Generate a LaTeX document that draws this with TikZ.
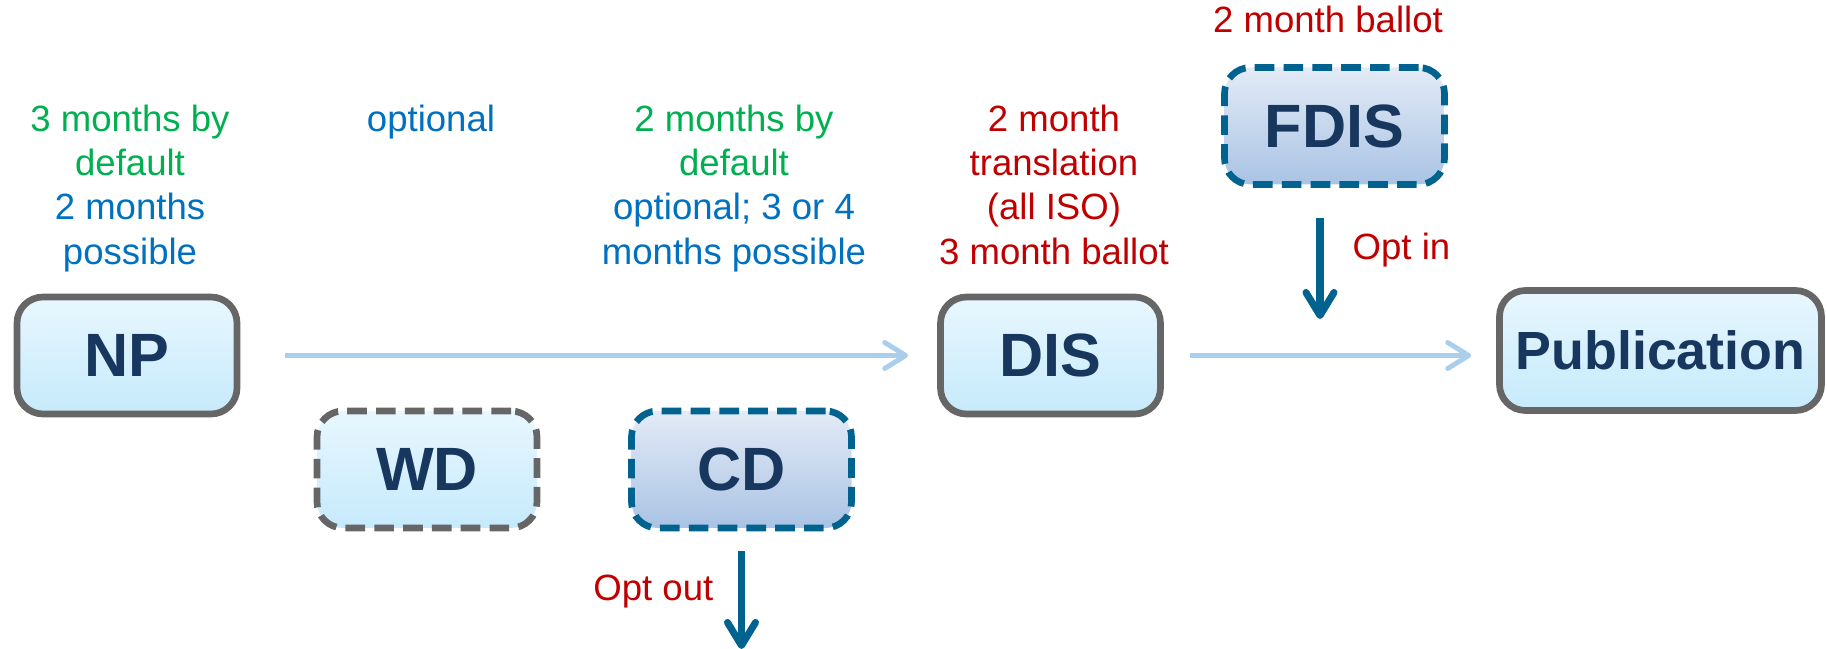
\documentclass[tikz,border=0pt]{standalone}
\usepackage{fontspec}
\setmainfont{Liberation Sans}
\usetikzlibrary{arrows.meta}

\definecolor{navy}{HTML}{17375E}
\definecolor{boxgray}{HTML}{666666}
\definecolor{lightTop}{HTML}{E8F7FE}
\definecolor{lightBot}{HTML}{C6EAFC}
\definecolor{steelTop}{HTML}{E3EBF6}
\definecolor{steelBot}{HTML}{A9C3E4}
\definecolor{steel}{HTML}{00638F}
\definecolor{flowblue}{HTML}{A9CFEC}
\definecolor{txtgreen}{HTML}{00B050}
\definecolor{txtblue}{HTML}{0070C0}
\definecolor{txtred}{HTML}{C00000}

\tikzset{
  stage/.style={rounded corners=2.6mm, inner sep=0pt, line width=1.9pt,
    minimum width=22mm, minimum height=11.7mm, text=navy,
    font=\bfseries\fontsize{17.4}{20}\selectfont},
  mandatory/.style={stage, draw=boxgray, top color=lightTop, bottom color=lightBot},
  optgray/.style={stage, draw=boxgray, dash pattern=on 5.6pt off 2.6pt,
    top color=lightTop, bottom color=lightBot},
  optsteel/.style={stage, draw=steel, dash pattern=on 5.6pt off 2.6pt,
    top color=steelTop, bottom color=steelBot},
  note/.style={inner sep=0pt, align=center, anchor=north,
    font=\fontsize{10.4}{12.6}\selectfont},
  flow/.style={draw=flowblue, line width=1.4pt,
    -{Straight Barb[length=2.1mm,width=2.6mm,line cap=round,line join=round]}},
  optflow/.style={draw=steel, line width=2pt,
    -{Straight Barb[length=2.3mm,width=2.8mm,line cap=round,line join=round]}},
  optlabel/.style={inner sep=0pt, text=txtred, font=\fontsize{10.4}{12.6}\selectfont}
}

\begin{document}
\begin{tikzpicture}[x=0.1mm, y=-0.1mm]
\useasboundingbox (0,0) rectangle (1827,649);

% stages of the approval process
\node[mandatory] (NP)  at (127,355.5)  {NP};
\node[optgray]   (WD)  at (427,469.5)  {WD};
\node[optsteel]  (CD)  at (741.5,469.5) {CD};
\node[mandatory] (DIS) at (1050.5,355.5) {DIS};
\node[optsteel]  (FDIS) at (1334.5,126) {FDIS};
\node[mandatory, minimum width=32.2mm, minimum height=12mm,
      font=\bfseries\fontsize{15.3}{18}\selectfont] (PUB) at (1660.5,350.5) {Publication};

% main flow
\draw[flow, shorten <=4.5mm, shorten >=2.9mm] (NP.east) -- (NP.east -| DIS.west);
\draw[flow, shorten <=2.6mm, shorten >=2.5mm] (DIS.east) -- (DIS.east -| PUB.west);

% optional branches
\coordinate (optin)  at (1320,319);
\coordinate (optout) at (741.5,649);
\draw[optflow, shorten <=3mm] (FDIS.south -| optin) -- (optin);
\draw[optflow, shorten <=2mm] (CD.south) -- (optout);
\node[optlabel, anchor=west] (inlbl) at (1352,250) {Opt in};
\node[optlabel, anchor=east] (outlbl) at (714,592) {Opt out};

% timing notes
\node[note] (npnote) at (130,104) {\textcolor{txtgreen}{3 months by}\\
  \textcolor{txtgreen}{default}\\ \textcolor{txtblue}{2 months}\\ \textcolor{txtblue}{possible}};
\node[note, text=txtblue] (wdnote) at (431,104) {optional};
\node[note] (cdnote) at (734,104) {\textcolor{txtgreen}{2 months by}\\
  \textcolor{txtgreen}{default}\\ \textcolor{txtblue}{optional; 3 or 4}\\
  \textcolor{txtblue}{months possible}};
\node[note, text=txtred] (disnote) at (1054,104) {2 month\\ translation\\ (all ISO)\\ 3 month ballot};
\node[note, text=txtred] (fdisnote) at (1328,5) {2 month ballot};
\end{tikzpicture}
\end{document}
